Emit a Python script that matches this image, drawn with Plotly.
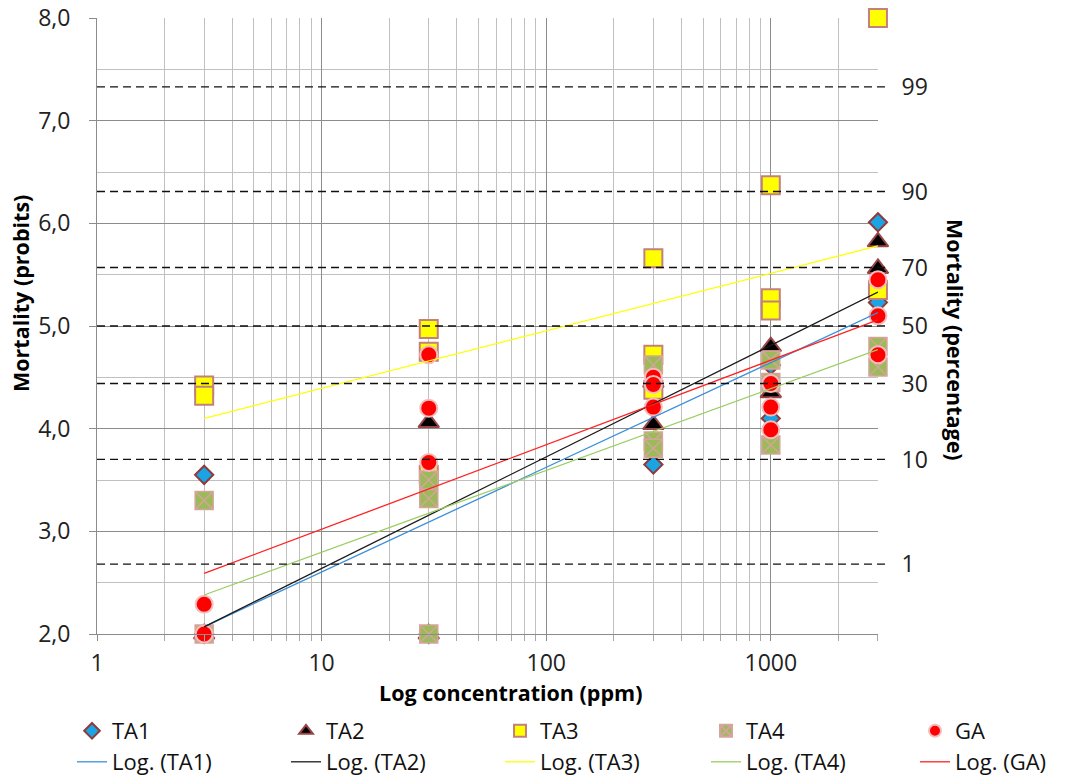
import plotly.graph_objects as go

# ---------------- data ----------------
x_tick_vals = [1, 10, 100, 1000]
x_tick_text = ["1", "10", "100", "1000"]

ta1_x = [3, 3, 30, 300, 300, 1000, 1000, 3000, 3000]
ta1_y = [3.55, 2.00, 2.00, 3.65, 4.45, 4.10, 4.62, 6.01, 5.23]

ta2_x = [3, 30, 30, 300, 300, 1000, 1000, 3000, 3000]
ta2_y = [2.00, 4.06, 2.00, 4.04, 4.45, 4.80, 4.35, 5.82, 5.56]

ta3_x = [3, 3, 30, 30, 30, 300, 300, 300, 1000, 1000, 1000, 3000, 3000]
ta3_y = [4.42, 4.32, 4.97, 4.75, 3.55, 5.66, 4.72, 4.38, 6.37, 5.27, 5.15, 8.00, 5.35]

ta4_x = [3, 3, 30, 30, 30, 300, 300, 300, 1000, 1000, 1000, 3000, 3000]
ta4_y = [3.30, 2.00, 3.50, 3.32, 2.00, 4.62, 3.88, 3.81, 4.67, 4.45, 3.84, 4.80, 4.60]

ga_x = [3, 3, 30, 30, 30, 300, 300, 300, 1000, 1000, 1000, 3000, 3000, 3000]
ga_y = [2.29, 2.00, 4.72, 4.20, 3.67, 4.50, 4.43, 4.21, 4.44, 4.21, 3.99, 5.45, 5.10, 4.72]

# logarithmic trend lines: value at the first and last concentration
trend_x = [3, 3000]
ta1_trend = [2.07, 5.13]
ta2_trend = [2.07, 5.33]
ta3_trend = [4.10, 5.78]
ta4_trend = [2.38, 4.77]
ga_trend = [2.59, 5.06]

# percentage scale on the right (probit positions)
pct_labels = ["1", "10", "30", "50", "70", "90", "99"]
pct_probits = [2.68, 3.70, 4.44, 5.00, 5.57, 6.31, 7.33]

series_names = ["TA1", "TA2", "TA3", "TA4", "GA"]
trend_names = ["Log. (TA1)", "Log. (TA2)", "Log. (TA3)", "Log. (TA4)", "Log. (GA)"]

# ---------------- styling ----------------
FONT = "Open Sans"
W, H = 1066, 780
L, R, T, B = 97, 878, 18, 634

marker_styles = [
    dict(symbol="diamond", size=14, color="#1CA3E3", line=dict(color="#8E3B3B", width=2)),
    dict(symbol="triangle-up", size=18, color="#000000", line=dict(color="#9A4545", width=2)),
    dict(symbol="square", size=18, color="#FFFF00", line=dict(color="#C4807C", width=2)),
    dict(symbol="square-x", size=18, color="#9BBB59", line=dict(color="#D6A49C", width=1.5)),
    dict(symbol="circle", size=17, color="#FF0000", line=dict(color="#F3BDBD", width=2)),
]
trend_colors = ["#3A8FD9", "#1A1A1A", "#FFFF00", "#9ACD5F", "#FF2020"]

xs = [ta1_x, ta2_x, ta3_x, ta4_x, ga_x]
ys = [ta1_y, ta2_y, ta3_y, ta4_y, ga_y]
trends = [ta1_trend, ta2_trend, ta3_trend, ta4_trend, ga_trend]

# legend column text starts (px) and row centres (px)
legend_cols = [112, 326, 540, 746, 955]
legend_rows = [731, 762]

fig = go.Figure()

for i in range(5):
    fig.add_trace(go.Scatter(
        x=xs[i], y=ys[i], mode="markers", name=series_names[i],
        marker=marker_styles[i], legend="legend" if i == 0 else f"legend{i + 1}",
        cliponaxis=False,
    ))
for i in range(5):
    fig.add_trace(go.Scatter(
        x=trend_x, y=trends[i], mode="lines", name=trend_names[i],
        line=dict(color=trend_colors[i], width=1.3),
        legend=f"legend{i + 6}",
    ))

# invisible trace on the right axis so it is rendered
fig.add_trace(go.Scatter(x=[3], y=[5], yaxis="y2", mode="markers",
                         marker=dict(opacity=0), showlegend=False, hoverinfo="skip"))

minor_x = [m * 10 ** d for d in range(0, 4) for m in range(2, 10) if m * 10 ** d <= 3000]

TICK_FONT = dict(family=FONT, size=23, color="#222222")

fig.update_layout(
    width=W, height=H,
    margin=dict(l=L, r=W - R, t=T, b=H - B, autoexpand=False),
    paper_bgcolor="white", plot_bgcolor="white",
    separators=", ",
    font=dict(family=FONT, size=22, color="#222222"),
    xaxis=dict(
        type="log", range=[0, 3.4773],
        tickvals=x_tick_vals, ticktext=x_tick_text,
        showgrid=True, gridcolor="#8C8C8C", gridwidth=1,
        showline=True, linecolor="#8C8C8C", linewidth=1,
        ticks="outside", ticklen=6, tickcolor="#8C8C8C",
        ticklabelstandoff=2,
        tickfont=TICK_FONT,
        minor=dict(tickvals=minor_x, showgrid=True, gridcolor="#C0C0C0", gridwidth=1,
                   ticks="outside", ticklen=6, tickcolor="#A8A8A8"),
        zeroline=False,
    ),
    yaxis=dict(
        range=[2, 8], dtick=1, tick0=2, tickformat=".1f",
        showgrid=True, gridcolor="#8C8C8C", gridwidth=1,
        showline=True, linecolor="#8C8C8C", linewidth=1,
        ticks="outside", ticklen=7, tickcolor="#8C8C8C",
        ticklabelstandoff=14,
        tickfont=TICK_FONT,
        minor=dict(dtick=0.5, showgrid=True, gridcolor="#C0C0C0", gridwidth=1),
        zeroline=False,
    ),
    yaxis2=dict(
        overlaying="y", side="right", range=[2, 8],
        tickvals=pct_probits, ticktext=pct_labels,
        showgrid=False, showline=False, zeroline=False,
        ticks="outside", ticklen=18, tickcolor="rgba(0,0,0,0)",
        tickfont=TICK_FONT,
    ),
)

# dashed probit lines for the percentage scale
for v in pct_probits:
    fig.add_shape(type="line", xref="paper", yref="y", x0=0, x1=(890 - L) / (R - L),
                  y0=v, y1=v, line=dict(color="#111111", width=1.3, dash="8px,5px"),
                  layer="above")

# axis titles
TITLE_FONT = dict(family=FONT, size=21.5, color="#000000")
fig.add_annotation(text="<b>Log concentration (ppm)</b>", xref="paper", yref="paper",
                   x=(510 - L) / (R - L), y=-(692 - B) / (B - T), showarrow=False,
                   xanchor="center", yanchor="middle", font=TITLE_FONT)
fig.add_annotation(text="<b>Mortality (probits)</b>", xref="paper", yref="paper",
                   x=(20 - L) / (R - L), y=(B - 294) / (B - T), showarrow=False, textangle=-90,
                   xanchor="center", yanchor="middle", font=TITLE_FONT)
fig.add_annotation(text="<b>Mortality (percentage)</b>", xref="paper", yref="paper",
                   x=(956 - L) / (R - L), y=(B - 340) / (B - T), showarrow=False, textangle=90,
                   xanchor="center", yanchor="middle", font=TITLE_FONT)

# legends: one per entry, laid out in two rows of five
legend_font = dict(family=FONT, size=22, color="#111111")
for k in range(10):
    row, col = divmod(k, 5)
    key = "legend" if k == 0 else f"legend{k + 1}"
    fig.update_layout({key: dict(
        xref="container", yref="container",
        x=(legend_cols[col] - 40) / W, y=1 - legend_rows[row] / H,
        xanchor="left", yanchor="middle",
        bgcolor="rgba(0,0,0,0)", borderwidth=0,
        font=legend_font, itemsizing="constant" if row == 0 else "trace",
    )})

fig.write_html("out.html", config={"displayModeBar": False},
               post_script="document.body.style.margin='0';")
